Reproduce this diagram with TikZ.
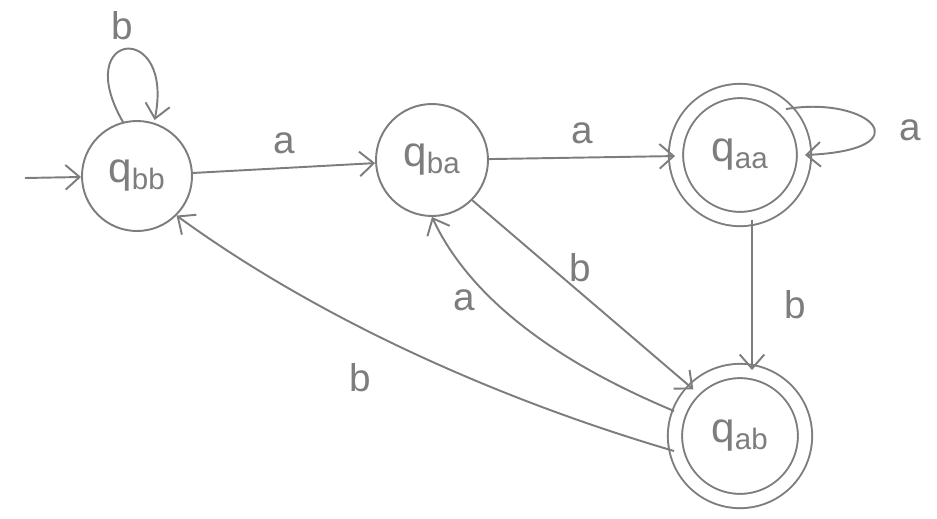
\documentclass[tikz,border=0pt]{standalone}
\usepackage{fontspec}
\setmainfont{Liberation Sans}
\usetikzlibrary{arrows.meta}
\definecolor{pencil}{RGB}{125,125,125}
\begin{document}
\begin{tikzpicture}[x=0.02cm,y=-0.02cm,
  every node/.style={text=pencil},
  edge/.style={draw=pencil,line width=1.1pt,-{Straight Barb[length=8pt,width=14pt]}},
  statecirc/.style={circle,draw=pencil,line width=1.1pt,inner sep=0pt,font=\fontsize{24}{26}\selectfont},
  acc/.style={statecirc,double=white,double distance=7pt},
  lbl/.style={font=\fontsize{22}{24}\selectfont}]
\useasboundingbox (0,0) rectangle (937,518);
\node[statecirc,minimum size=110*0.02cm] (bb) at (137,176) {q\textsubscript{bb}};
\node[statecirc,minimum size=112*0.02cm] (ba) at (432,160) {q\textsubscript{ba}};
\node[acc,minimum size=128*0.02cm] (aa) at (740,155) {q\textsubscript{aa}};
\node[acc,minimum size=130*0.02cm] (ab) at (740,436) {q\textsubscript{ab}};
\coordinate (init) at (25,178);
\draw[edge] (init) -- (bb);
\draw[edge] (bb.north) ++(-14,2) coordinate (bbl) .. controls (70,30) and (175,20) .. ([xshift=10pt]bb.north);
\node[lbl] (lb1) at (122,26) {b};
\draw[edge] (bb) -- (ba) node[lbl,midway,above=4pt] (la1) {a};
\draw[edge] (ba) -- (aa) node[lbl,midway,above=4pt] (la2) {a};
\draw[edge] (aa.north east) .. controls (870,95) and (925,150) .. (aa.east);
\node[lbl] (la3) at (910,130) {a};
\draw[edge] (aa.south) ++(12,0) coordinate (aas) -- (ab.north -| aas);
\node[lbl] (lb2) at (795,305) {b};
\draw[edge] (ba.south east) -- (ab.north west);
\node[lbl] (lb3) at (580,268) {b};
\draw[edge] (ab.west) ++(0,-25) coordinate (abw) .. controls (600,380) and (480,320) .. (ba.south);
\node[lbl] (la4) at (464,300) {a};
\draw[edge] (ab.west) ++(0,15) coordinate (abw2) .. controls (500,400) and (320,320) .. (bb.south east);
\node[lbl] (lb4) at (360,378) {b};
\end{tikzpicture}
\end{document}
